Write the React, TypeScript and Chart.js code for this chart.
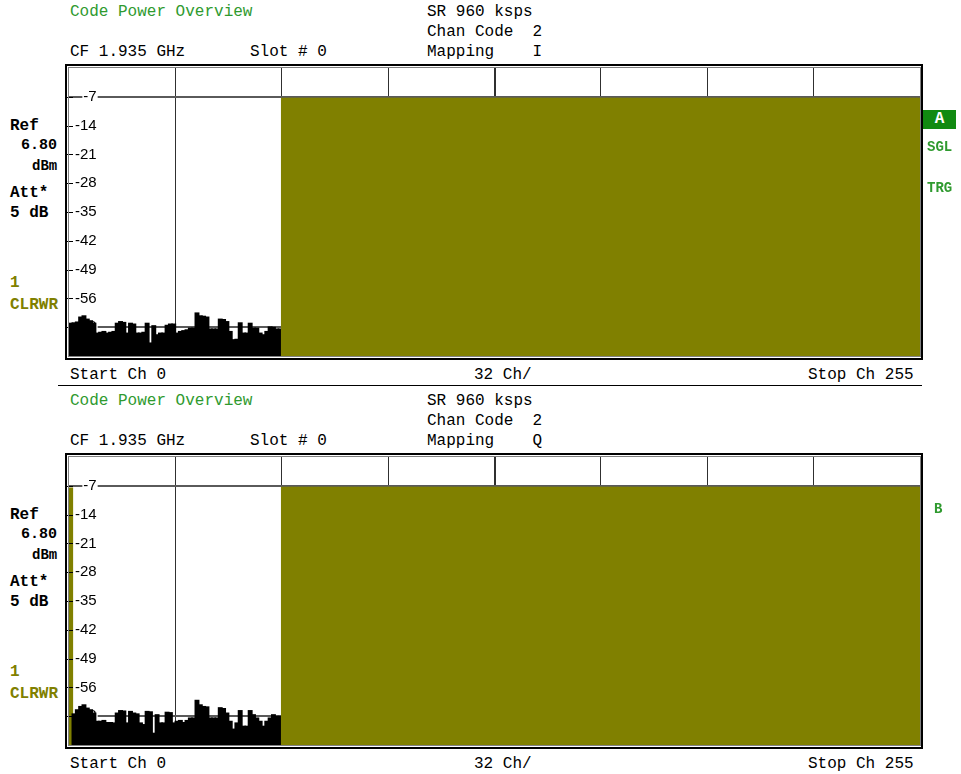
import React, { useEffect, useRef } from "react";
import { Chart, registerables } from "chart.js";
Chart.register(...registerables);

// ---------- data ----------
const CHANNEL_COUNT = 256;
const CHANNELS: string[] = Array.from({ length: CHANNEL_COUNT }, (_, i) => String(i));
const Y_MIN = -70;
const Y_MAX = 0;
const Y_TICKS = [-7, -14, -21, -28, -35, -42, -49, -56, -63];
const GRID_Y = [-7, -63];
const GRID_X_EVERY = 32;

// code-domain power of the inactive channels 0..63 (dB)
const NOISE_I = [
  -62.1, -62.0, -61.8, -60.6, -60.3, -61.1, -61.5, -62.1, -64.5, -64.3,
  -64.1, -64.5, -64.3, -64.1, -62.1, -61.7, -61.9, -64.5, -62.1, -62.3,
  -64.5, -64.5, -64.3, -62.1, -66.9, -62.7, -64.9, -64.5, -64.5, -62.6,
  -62.3, -62.3, -64.5, -64.1, -63.9, -63.7, -63.3, -63.3, -59.6, -60.3,
  -60.4, -60.6, -63.5, -63.5, -63.5, -61.1, -61.2, -61.7, -64.1, -66.1,
  -66.0, -62.0, -64.5, -64.5, -62.1, -63.3, -63.3, -64.5, -64.9, -64.1,
  -63.0, -63.1, -63.5, -63.5,
];
const NOISE_Q = [
  -62.6, -62.5, -61.5, -60.7, -60.3, -61.1, -61.5, -62.3, -64.3, -64.3,
  -64.1, -64.6, -64.6, -64.7, -62.3, -61.7, -61.8, -64.7, -61.9, -62.3,
  -62.5, -64.7, -65.1, -61.9, -62.0, -67.2, -62.7, -64.7, -64.7, -62.1,
  -62.2, -64.7, -64.3, -64.1, -64.6, -64.1, -63.5, -63.5, -59.2, -60.3,
  -60.7, -60.8, -63.5, -63.5, -63.5, -61.0, -61.2, -62.3, -64.3, -66.2,
  -64.7, -61.7, -65.5, -65.5, -61.7, -62.7, -63.5, -64.3, -65.5, -64.3,
  -63.5, -62.7, -63.1, -63.1,
];
// active code channels (olive): inclusive channel ranges and their level in dB
const ACTIVE_I = [{ from: 64, to: 255, level: -7.4 }];
const ACTIVE_Q = [
  { from: 0, to: 0, level: -7.6 },
  { from: 64, to: 255, level: -7.4 },
];

// ---------- styles ----------
const OLIVE = "#808000";
const BLACK = "#000000";
const GREEN = "#2f9a2f";
const MONO = "'Liberation Mono', 'Courier New', monospace";

function buildConfig(noise: number[], active: { from: number; to: number; level: number }[]): any {
  const values: number[] = [];
  const colors: string[] = [];
  CHANNELS.forEach((_, i) => {
    const a = active.find((r) => i >= r.from && i <= r.to);
    if (a) {
      values.push(a.level);
      colors.push(OLIVE);
    } else {
      values.push(noise[i] !== undefined ? noise[i] : Y_MIN);
      colors.push(BLACK);
    }
  });

  const framePlugin = {
    id: "frame",
    afterDraw(chart: any) {
      const { ctx, chartArea: a, scales } = chart;
      const y = scales.y;
      ctx.save();
      // left tick marks
      ctx.strokeStyle = "#000";
      ctx.lineWidth = 1;
      Y_TICKS.forEach((v) => {
        const py = Math.round(y.getPixelForValue(v)) + 0.5;
        ctx.beginPath();
        ctx.moveTo(a.left - 2, py);
        ctx.lineTo(a.left + 4, py);
        ctx.stroke();
      });
      // inner frame
      ctx.strokeStyle = "#808080";
      ctx.lineWidth = 1;
      ctx.strokeRect(a.left - 0.5, a.top - 0.5, a.right - a.left + 1, a.bottom - a.top + 1);
      // outer frame
      ctx.strokeStyle = "#000";
      ctx.lineWidth = 2;
      ctx.strokeRect(a.left - 3, a.top - 3, a.right + 2 - (a.left - 3), a.bottom + 3 - (a.top - 3));
      ctx.restore();
    },
  };

  const zeroPad = (s: any) => {
    s.paddingTop = 0;
    s.paddingBottom = 0;
    s.paddingLeft = 0;
    s.paddingRight = 0;
  };

  return {
    type: "bar",
    data: {
      labels: CHANNELS,
      datasets: [
        {
          data: values.map((v) => [Y_MIN, v]),
          backgroundColor: colors,
          borderWidth: 0,
          barPercentage: 1,
          categoryPercentage: 1,
          inflateAmount: 0.8,
        },
      ],
    },
    options: {
      animation: false,
      responsive: false,
      maintainAspectRatio: false,
      events: [],
      layout: { padding: { left: 9, right: 10, top: 8, bottom: 9 } },
      plugins: { legend: { display: false }, tooltip: { enabled: false } },
      scales: {
        x: {
          type: "category",
          offset: true,
          ticks: { display: false, autoSkip: false },
          grid: {
            offset: true,
            drawTicks: false,
            color: (c: any) =>
              c.index > 0 && c.index < CHANNEL_COUNT && c.index % GRID_X_EVERY === 0 ? "#303030" : "rgba(0,0,0,0)",
            lineWidth: (c: any) => (c.index === CHANNEL_COUNT / 2 ? 2 : 1),
          },
          border: { display: false },
          afterFit: (s: any) => {
            s.height = 0;
            zeroPad(s);
          },
        },
        y: {
          type: "linear",
          min: Y_MIN,
          max: Y_MAX,
          afterBuildTicks: (s: any) => {
            s.ticks = Y_TICKS.map((v) => ({ value: v }));
          },
          ticks: {
            mirror: true,
            crossAlign: "far",
            padding: 6,
            color: "#000",
            font: { family: "'Liberation Sans', Arial, sans-serif", size: 15 },
            callback: (v: any) => String(v),
            showLabelBackdrop: true,
            backdropColor: "#ffffff",
            backdropPadding: { left: 1, right: 1, top: 0, bottom: 0 },
          },
          grid: {
            drawTicks: false,
            color: (c: any) => (c.tick && GRID_Y.includes(c.tick.value) ? "#5a5a5a" : "rgba(0,0,0,0)"),
            lineWidth: 2,
          },
          border: { display: false },
          afterFit: (s: any) => {
            s.width = 0;
            zeroPad(s);
          },
        },
      },
    },
    plugins: [framePlugin],
  };
}

function Panel({ noise, active }: { noise: number[]; active: any[] }) {
  const ref = useRef<HTMLCanvasElement | null>(null);
  useEffect(() => {
    if (!ref.current) return;
    const chart = new Chart(ref.current, buildConfig(noise, active));
    return () => chart.destroy();
  }, [noise, active]);
  return <canvas ref={ref} width={870} height={305} style={{ width: 870, height: 305, display: "block" }} />;
}

function T({
  x,
  y,
  text,
  color = "#000",
  bold = false,
  size = 16,
  bg,
  w,
  h = 16,
  align,
}: {
  x: number;
  y: number;
  text: string;
  color?: string;
  bold?: boolean;
  size?: number;
  bg?: string;
  w?: number;
  h?: number;
  align?: "left" | "center" | "right";
}) {
  return (
    <div
      style={{
        position: "absolute",
        left: x,
        top: y - h / 2,
        height: h,
        lineHeight: h + "px",
        fontSize: size,
        fontFamily: MONO,
        fontWeight: bold ? 700 : 400,
        color,
        whiteSpace: "pre",
        background: bg,
        width: w,
        textAlign: align,
      }}
    >
      {text}
    </div>
  );
}

function Screen({ dy, noise, active, mapping, trace }: any) {
  return (
    <>
      <T x={70} y={12 + dy} text="Code Power Overview" color={GREEN} />
      <T x={427} y={12 + dy} text="SR 960 ksps" />
      <T x={427} y={32 + dy} text="Chan Code  2" />
      <T x={70} y={52 + dy} text="CF 1.935 GHz" />
      <T x={250} y={52 + dy} text="Slot # 0" />
      <T x={427} y={52 + dy} text={"Mapping    " + mapping} />
      <T x={10} y={126 + dy} text="Ref" bold />
      <T x={21} y={146 + dy} text="6.80" bold size={15} />
      <T x={32} y={166 + dy} text="dBm" bold size={14} />
      <T x={10} y={193 + dy} text="Att*" bold />
      <T x={10} y={213 + dy} text="5 dB" bold />
      <T x={10} y={283 + dy} text="1" bold color={OLIVE} />
      <T x={10} y={305 + dy} text="CLRWR" bold color={OLIVE} />
      <div style={{ position: "absolute", left: 60, top: 60 + dy }}>
        <Panel noise={noise} active={active} />
      </div>
      <T x={70} y={375 + dy} text="Start Ch 0" />
      <T x={474} y={375 + dy} text="32 Ch/" />
      <T x={808} y={375 + dy} text="Stop Ch 255" />
      {trace}
    </>
  );
}

export default function App() {
  return (
    <div
      style={{
        position: "absolute",
        left: 0,
        top: 0,
        width: 961,
        height: 774,
        background: "#fff",
        overflow: "hidden",
      }}
    >
      <Screen
        dy={0}
        noise={NOISE_I}
        active={ACTIVE_I}
        mapping="I"
        trace={
          <>
            <T x={923} y={119} h={19} text="A" bold color="#fff" bg="#118a11" w={33} align="center" />
            <T x={927} y={147} text="SGL" bold color={GREEN} size={14} />
            <T x={927} y={188} text="TRG" bold color={GREEN} size={14} />
          </>
        }
      />
      <div style={{ position: "absolute", left: 58, top: 385, width: 864, height: 1, background: "#000" }} />
      <Screen
        dy={389}
        noise={NOISE_Q}
        active={ACTIVE_Q}
        mapping="Q"
        trace={<T x={934} y={509} text="B" bold color={GREEN} size={14} />}
      />
    </div>
  );
}
